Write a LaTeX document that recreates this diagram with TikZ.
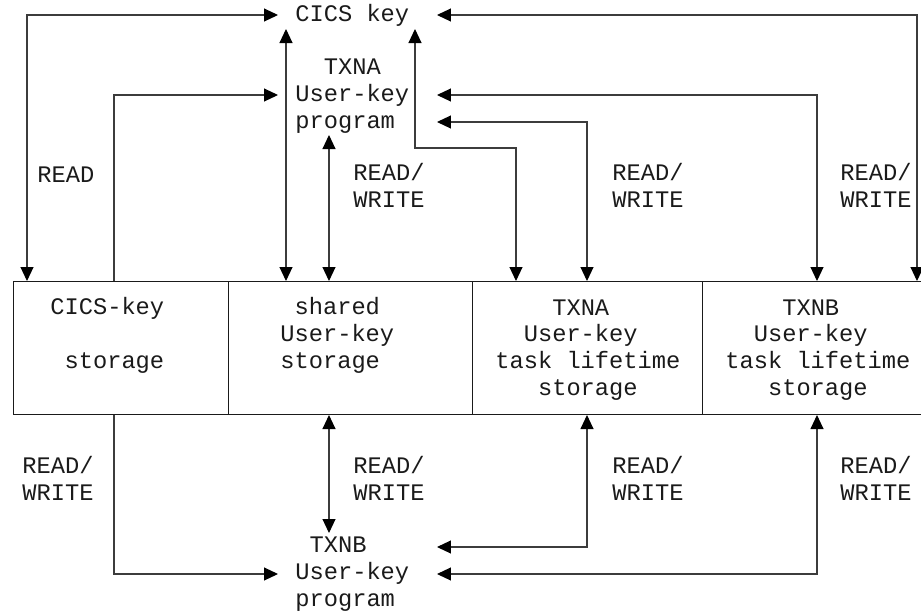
\documentclass[tikz,border=0pt]{standalone}
\usepackage{fontspec}
\newfontfamily\diagfont{Liberation Mono}
\usetikzlibrary{arrows.meta,calc}
\definecolor{lnclr}{HTML}{3C3C3C}
\definecolor{txclr}{HTML}{1A1A1A}

\begin{document}
\begin{tikzpicture}[x=0.02cm, y=-0.02cm,
    >={Triangle[length=0.28cm,width=0.26cm,color=black]},
    lbl/.style={font=\fontsize{13.5}{15.1}\selectfont\diagfont, text=txclr, inner sep=0pt, anchor=base west, align=left},
    storecell/.style={draw=txclr, line width=0.6pt, anchor=north west, minimum height=2.66cm, inner sep=0pt},
    conn/.style={draw=lnclr, line width=0.6pt}]
    \useasboundingbox (0,0) rectangle (921,613);

    \node[storecell, minimum width=4.3cm] (cicsstore) at (13,281) {};
    \node[storecell, minimum width=4.88cm] (sharedstore) at (228,281) {};
    \node[storecell, minimum width=4.6cm] (txnastore) at (472,281) {};
    \node[storecell, minimum width=4.4cm] (txnbstore) at (702,281) {};

    \node[lbl] (cicstext) at (50,368) {CICS-key\\~\\~storage};
    \node[lbl] (sharedtext) at (280,368) {~shared\\User-key\\storage};
    \node[lbl] (txnatext) at (495,395) {~~~~TXNA\\~~User-key\\task lifetime\\~~~storage};
    \node[lbl] (txnbtext) at (725,395) {~~~~TXNB\\~~User-key\\task lifetime\\~~~storage};

    \node[lbl] (cicskey) at (295,21) {CICS key};
    \node[lbl] (txnaprog) at (295,128) {~~TXNA\\User-key\\program};
    \node[lbl] (txnbprog) at (295,606) {~TXNB\\User-key\\program};

    \node[lbl] (readtop) at (37,182) {READ};
    \node[lbl] (rwtopa) at (353,207) {READ/\\WRITE};
    \node[lbl] (rwtopb) at (612,207) {READ/\\WRITE};
    \node[lbl] (rwtopc) at (840,207) {READ/\\WRITE};
    \node[lbl] (rwbota) at (22,500) {READ/\\WRITE};
    \node[lbl] (rwbotb) at (353,500) {READ/\\WRITE};
    \node[lbl] (rwbotc) at (612,500) {READ/\\WRITE};
    \node[lbl] (rwbotd) at (840,500) {READ/\\WRITE};

    \draw[conn, <->] ($(cicskey.base west)+(-17,-6)$) -| ($(cicsstore.north west)+(14,0)$);
    \draw[conn, ->] ($(cicsstore.north west)+(101,0)$) |- ($(txnaprog.base west)+(-17,-33)$);
    \draw[conn, ->] ($(cicsstore.south west)+(101,0)$) |- ($(txnbprog.base west)+(-17,-32)$);
    \draw[conn, <->] ($(cicskey.base west)+(-9,8)$) -- ($(sharedstore.north west)+(58,0)$);
    \draw[conn, <->] ($(txnaprog.base west)+(34,7)$) -- ($(sharedstore.north west)+(101,0)$);
    \draw[conn, <->] ($(sharedstore.south west)+(101,0)$) -- ($(txnbprog.base west)+(34,-73)$);

    \draw[conn, <->] ($(cicskey.base west)+(142,-6)$) -| ($(txnbstore.north west)+(215,0)$);
    \draw[conn, <->] ($(txnaprog.base west)+(142,-33)$) -| ($(txnbstore.north west)+(115,0)$);
    \draw[conn, <->] ($(txnaprog.base west)+(142,-6)$) -| ($(txnastore.north west)+(115,0)$);
    \draw[conn, <->] ($(cicskey.base west)+(120,8)$) -- ++(0,119) -| ($(txnastore.north west)+(44,0)$);

    \draw[conn, <->] ($(txnastore.south west)+(115,0)$) |- ($(txnbprog.base west)+(142,-59)$);
    \draw[conn, <->] ($(txnbstore.south west)+(115,0)$) |- ($(txnbprog.base west)+(142,-32)$);
  \end{tikzpicture}
\end{document}
